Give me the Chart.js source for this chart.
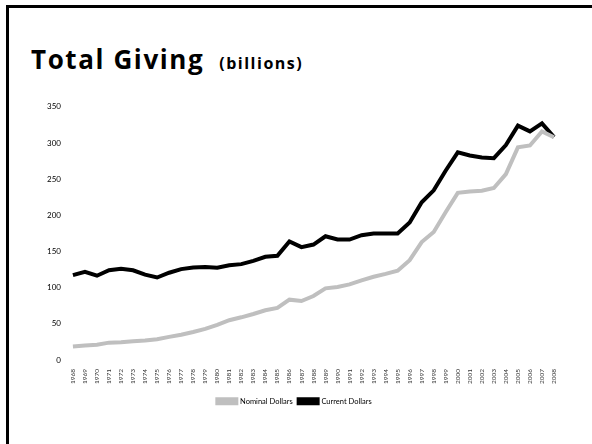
<!DOCTYPE html>
<html>
<head>
<meta charset="utf-8">
<script src="https://cdn.jsdelivr.net/npm/chart.js@4"></script>
<style>
  body { margin: 0; background: #fff; width: 592px; height: 444px; overflow: hidden; position: relative; }
  .frame { position: absolute; left: 6px; top: 5px; right: -10px; bottom: -10px; border-top: 3px solid #000; border-left: 3px solid #000; }
  .title { position: absolute; left: 31px; top: 41px; font-family: "Open Sans", sans-serif; font-weight: bold; font-size: 26px; color: #000; white-space: nowrap; letter-spacing: 1.6px; }
  .title small { font-size: 16px; letter-spacing: 1.5px; margin-left: 15px; }
  .box { position: absolute; left: 0; top: 90px; width: 592px; height: 325px; }
</style>
</head>
<body>
<div class="frame"></div>
<div class="title">Total Giving<small>(billions)</small></div>
<div class="box"><canvas id="givingChart"></canvas></div>
<script>
// 연도
var years = ['1968','1969','1970','1971','1972','1973','1974','1975','1976','1977',
  '1978','1979','1980','1981','1982','1983','1984','1985','1986','1987',
  '1988','1989','1990','1991','1992','1993','1994','1995','1996','1997',
  '1998','1999','2000','2001','2002','2003','2004','2005','2006','2007','2008'];

// 명목 금액
var nominalDollars = [18.6, 20, 21, 24, 24.6, 26, 27, 28.7, 32, 35,
  38.8, 43, 48.5, 55, 59, 63.6, 68.7, 72, 83.4, 81.5,
  88.4, 99, 101, 104.5, 110, 115, 119, 123.5, 138, 163,
  177, 204.6, 231, 233, 234, 237.7, 257, 294, 296.5, 316, 308];

// 현재 가치 금액
var currentDollars = [117.4, 122, 116.5, 124, 126, 124, 118, 114, 120.6, 125.6,
  128, 128.4, 127.5, 131, 132.5, 137, 142.6, 144, 164, 156,
  159.6, 171, 166.5, 166.5, 172.5, 174.8, 175, 175, 190, 218,
  234.5, 262, 287, 282.7, 280, 279, 297, 324, 316, 327, 308];

var yTicks = { min: 0, max: 350, step: 50 };

Chart.defaults.font.family = 'Lato, sans-serif';
Chart.defaults.color = '#000';

// 총 기부액 그래프 그리기
var ctx = document.getElementById('givingChart').getContext('2d');
var givingChart = new Chart(ctx, {
  type: 'line',
  data: {
    labels: years,
    datasets: [{
      label: 'Nominal Dollars',
      data: nominalDollars,
      borderColor: '#bfbfbf',
      backgroundColor: '#bfbfbf',
      borderWidth: 4,
      pointRadius: 0,
      tension: 0
    }, {
      label: 'Current Dollars',
      data: currentDollars,
      borderColor: '#000',
      backgroundColor: '#000',
      borderWidth: 4,
      pointRadius: 0,
      tension: 0
    }]
  },
  options: {
    responsive: true,
    maintainAspectRatio: false,
    animation: false,
    layout: { padding: { left: 35, right: 38, top: 6.5, bottom: 0 } },
    plugins: {
      tooltip: { enabled: false },
      legend: {
        position: 'bottom',
        labels: {
          boxWidth: 19,
          boxHeight: 4,
          padding: 6,
          font: { size: 7.5 },
          color: '#000'
        }
      }
    },
    scales: {
      x: {
        offset: false,
        grid: { display: false, drawTicks: false },
        border: { display: false },
        // 연도 라벨 영역 높이 고정
        afterFit: function (scale) { scale.height = 31.5; },
        ticks: {
          autoSkip: false,
          maxRotation: 90,
          minRotation: 90,
          padding: 9,
          font: { size: 6.5 },
          color: '#333'
        }
      },
      y: {
        min: yTicks.min,
        max: yTicks.max,
        grid: { display: false, drawTicks: false },
        border: { display: false },
        ticks: {
          stepSize: yTicks.step,
          padding: 12,
          font: { size: 8 },
          color: '#000'
        }
      }
    }
  }
});
</script>
</body>
</html>
